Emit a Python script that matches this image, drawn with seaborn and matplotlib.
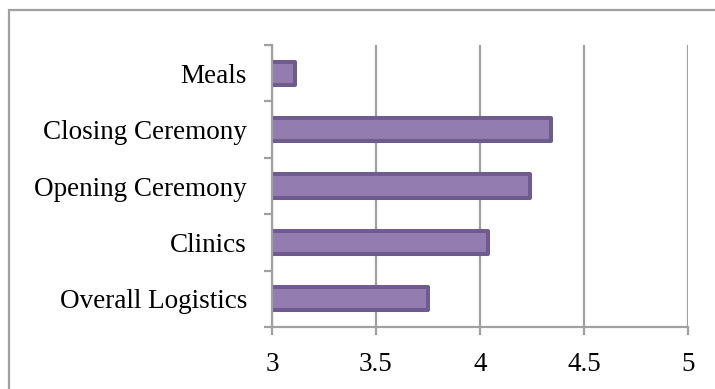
import matplotlib
matplotlib.use("Agg")
import matplotlib.pyplot as plt
from matplotlib.patches import Rectangle
from matplotlib.ticker import FixedLocator
import seaborn as sns
import pandas as pd

categories = ["Meals", "Closing Ceremony", "Opening Ceremony", "Clinics", "Overall Logistics"]
scores = [3.11, 4.34, 4.24, 4.04, 3.75]
x_ticks = [3, 3.5, 4, 4.5, 5]
x_tick_labels = ["3", "3.5", "4", "4.5", "5"]

df = pd.DataFrame({"category": categories, "score": scores})

sns.set_theme(style="white")
plt.rcParams["font.family"] = ["Liberation Serif", "DejaVu Serif"]

grey = "#a0a0a0"
fill = "#937DB0"
edge = "#6F5B8E"

fig = plt.figure(figsize=(7.15, 3.89), dpi=100)
ax = fig.add_axes([272 / 715, 1 - 327 / 389, (688 - 272) / 715, (327 - 45) / 389])

sns.barplot(data=df, x="score", y="category", order=categories, orient="h",
            color=fill, width=0.41, ax=ax, saturation=1)
for p in ax.patches:
    p.set_facecolor(fill)
    p.set_edgecolor(edge)
    p.set_linewidth(2.9)
    p.set_joinstyle("round")

ax.set_xlim(3, 5)
ax.set_ylim(len(categories) - 0.5, -0.5)
ax.set_xticks(x_ticks)
ax.set_xticklabels(x_tick_labels)
ax.set_xlabel("")
ax.set_ylabel("")

ax.xaxis.grid(True, color=grey, linewidth=1.6)
ax.yaxis.grid(False)
ax.set_axisbelow(True)

for side in ("top", "right"):
    ax.spines[side].set_visible(False)
for side in ("left", "bottom"):
    ax.spines[side].set_color(grey)
    ax.spines[side].set_linewidth(1.6)

# category boundaries carry the tick marks on the y axis
ax.yaxis.set_minor_locator(FixedLocator([i - 0.5 for i in range(len(categories) + 1)]))
ax.tick_params(axis="y", which="major", length=0, pad=18, labelsize=19.5, labelcolor="#000000")
ax.tick_params(axis="y", which="minor", left=True, length=6, width=1.6, color=grey, direction="out")
ax.tick_params(axis="x", which="major", bottom=True, length=6, width=1.6, color=grey,
               direction="out", pad=12, labelsize=19.5, labelcolor="#000000")

# outer chart frame
fig.add_artist(Rectangle((9 / 715, -0.1), 1.2, 1 - 10 / 389 + 0.1, transform=fig.transFigure,
                         fill=False, edgecolor=grey, linewidth=1.6, clip_on=False))

fig.savefig("out.png", dpi=100)
